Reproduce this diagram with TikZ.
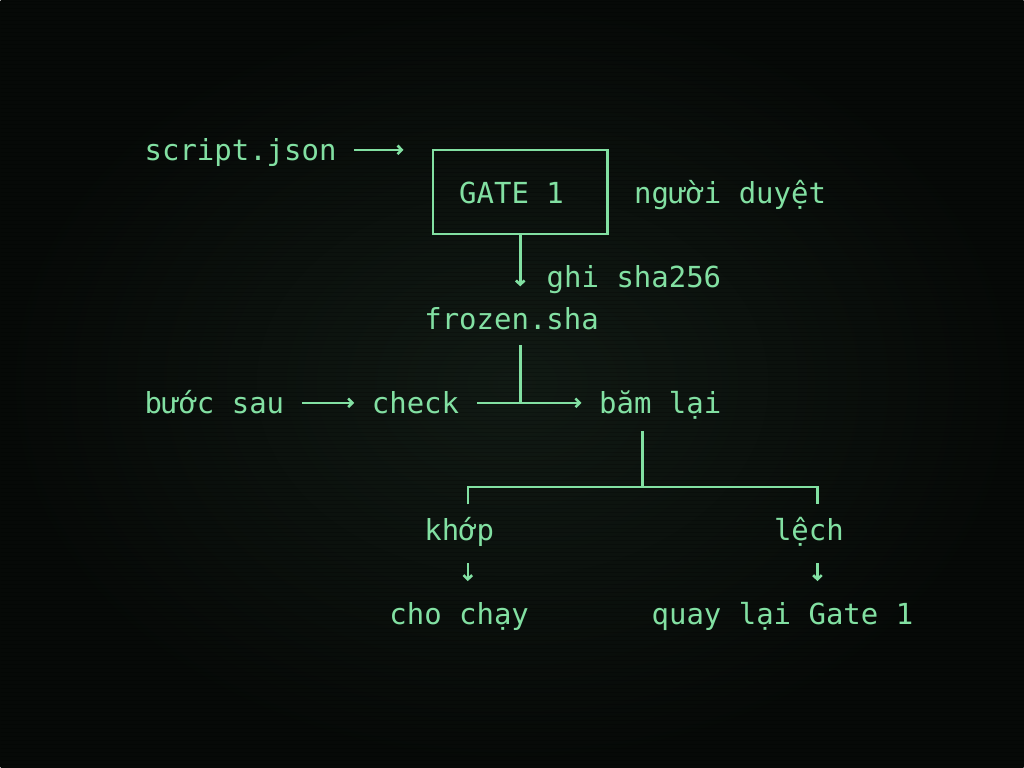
\documentclass[tikz,border=0pt]{standalone}
\usepackage{fontspec}
\usepackage{xcolor}
\usetikzlibrary{arrows.meta}
\newfontfamily\termfont{DejaVu Sans Mono}
\definecolor{termgreen}{HTML}{82E0A2}
\definecolor{bgmid}{HTML}{111A14}
\definecolor{bgedge}{HTML}{060907}

\tikzset{
 term/.style={anchor=base west, inner sep=0pt, text=termgreen, text height=18.5pt, text depth=2pt,
  font=\termfont\fontsize{21.75pt}{26pt}\selectfont},
 gatebox/.style={term, anchor=center, draw=termgreen, line width=1.9pt, minimum width=130.9pt, minimum height=63.3pt},
 wire/.style={draw=termgreen, line width=1.9pt},
 arr/.style={wire, -{Straight Barb[length=3.2pt,width=6.5pt]}, shorten <=13.1pt, shorten >=13.1pt},
}

\begin{document}
\begin{tikzpicture}[x=0.75pt,y=-0.75pt]
 \pgfmathsetmacro{\cw}{17.5}
 \pgfmathsetmacro{\lh}{42.2}
 \pgfmathsetmacro{\xo}{144}
 \pgfmathsetmacro{\yo}{161}
 \shade[inner color=bgmid, outer color=bgedge] (0,0) rectangle (1024,768);
 \foreach \y in {1,5,...,767}
  \draw[black, opacity=0.2, line width=0.75pt] (0,\y) -- (1024,\y);

 \node[term] (script) at ({\xo},{\yo}) {script.json};
 \node[gatebox] (gate) at ({\xo+21.5*\cw},{150+\lh}) {GATE 1\hphantom{1}};
 \node[term] (reviewer) at ({\xo+28*\cw},{\yo+\lh}) {người duyệt};
 \node[term] (sha) at ({\xo+23*\cw},{\yo+3*\lh}) {ghi sha256};
 \node[term] (frozen) at ({\xo+16*\cw},{\yo+4*\lh}) {frozen.sha};
 \node[term] (buoc) at ({\xo},{\yo+6*\lh}) {bước sau};
 \node[term] (check) at ({\xo+13*\cw},{\yo+6*\lh}) {check};
 \node[term] (bam) at ({\xo+26*\cw},{\yo+6*\lh}) {băm lại};
 \node[term] (khop) at ({\xo+16*\cw},{\yo+9*\lh}) {khớp};
 \node[term] (lech) at ({\xo+36*\cw},{\yo+9*\lh}) {lệch};
 \node[term] (chay) at ({\xo+14*\cw},{\yo+11*\lh}) {cho chạy};
 \node[term] (quay) at ({\xo+29*\cw},{\yo+11*\lh}) {quay lại Gate 1};

 \coordinate (tee) at ({\xo+21.5*\cw},{150+6*\lh});
 \coordinate (split) at ({\xo+28.5*\cw},{150+8*\lh});
 \coordinate (okL) at ({\xo+18.5*\cw},{150+8*\lh});
 \coordinate (okR) at ({\xo+38.5*\cw},{150+8*\lh});

 \draw[arr, shorten >=21.2pt] (script.east) -- (script.east -| gate.west);
 \draw[arr, shorten <=0pt, shorten >=13.6pt] (gate.south) -- (gate.south |- frozen.north);
 \draw[wire, shorten <=9.4pt] (frozen.south -| tee) -- (tee);
 \draw[arr] (buoc) -- (check);
 \draw[arr] (check) -- (bam);
 \draw[wire, shorten <=10.6pt] (bam.south -| split) -- (split);
 \draw[wire, shorten <=8.3pt, shorten >=8.3pt] (okL |- khop.north) -- (okL) -- (okR) -- (okR |- lech.north);
 \foreach \k/\a/\b in {okL/khop/chay, okR/lech/quay}
  \draw[arr, shorten <=15pt, shorten >=13.9pt] (\a.south -| \k) -- (\b.north -| \k);
\end{tikzpicture}
\end{document}
